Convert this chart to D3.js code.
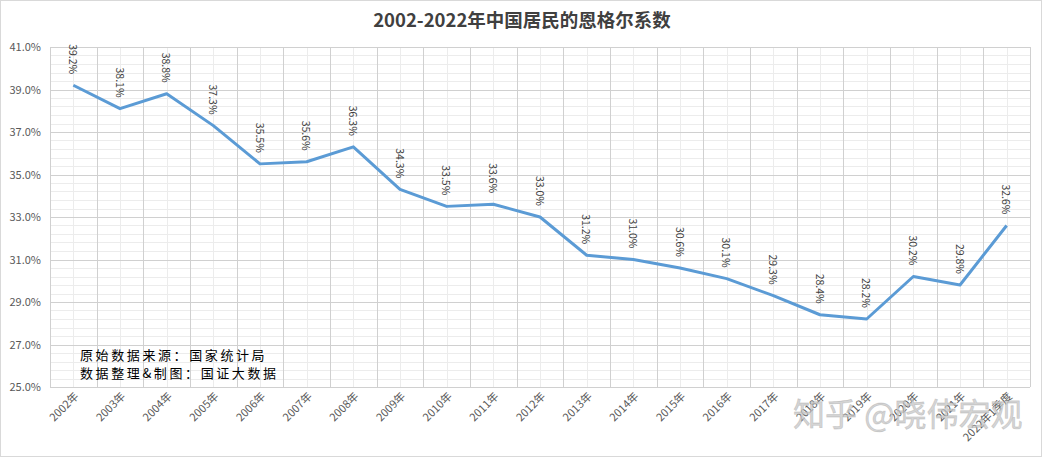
<!DOCTYPE html>
<html><head><meta charset="utf-8">
<script src="https://cdn.jsdelivr.net/npm/d3@7"></script>
<style>
html,body{margin:0;padding:0;background:#fff;}
svg{display:block;}
</style></head>
<body>
<svg id="c" width="1044" height="459"></svg>
<script>
const title = "2002-2022年中国居民的恩格尔系数";
const categories = ["2002年","2003年","2004年","2005年","2006年","2007年","2008年","2009年","2010年","2011年","2012年","2013年","2014年","2015年","2016年","2017年","2018年","2019年","2020年","2021年","2022年1季度"];
const values = [39.2,38.1,38.8,37.3,35.5,35.6,36.3,34.3,33.5,33.6,33.0,31.2,31.0,30.6,30.1,29.3,28.4,28.2,30.2,29.8,32.6];
const yTicks = [25,27,29,31,33,35,37,39,41];
const notes = ["原始数据来源：国家统计局","数据整理&制图：国证大数据"];
const watermark = "知乎 @晓伟宏观";

const svg = d3.select("#c");
const W = 1044, H = 459;
const m = {left:50, right:1030, top:47, bottom:387};
const font = "'Noto Sans CJK SC','Noto Sans',sans-serif";

svg.append("rect").attr("x",0.5).attr("y",0.5).attr("width",W-3).attr("height",H-3)
  .attr("fill","#fff").attr("stroke","#d9d9d9");

const x = d3.scaleBand().domain(categories).range([m.left,m.right]).padding(0);
const y = d3.scaleLinear().domain([25,41]).range([m.bottom,m.top]);

const g = svg.append("g");
g.selectAll(".hmin").data(d3.range(0,41).map(i=>25+i*0.4)).join("line")
  .attr("x1",m.left).attr("x2",m.right)
  .attr("y1",d=>Math.round(y(d))+0.5).attr("y2",d=>Math.round(y(d))+0.5)
  .attr("stroke","#ececec").attr("stroke-width",1);
g.selectAll(".vmin").data(categories).join("line")
  .attr("x1",d=>Math.round(x(d)+x.bandwidth()/2)+0.5).attr("x2",d=>Math.round(x(d)+x.bandwidth()/2)+0.5)
  .attr("y1",m.top).attr("y2",m.bottom)
  .attr("stroke","#ececec").attr("stroke-width",1);
g.selectAll(".hmaj").data(yTicks).join("line")
  .attr("x1",m.left).attr("x2",m.right)
  .attr("y1",d=>Math.round(y(d))+0.5).attr("y2",d=>Math.round(y(d))+0.5)
  .attr("stroke","#d0d0d0").attr("stroke-width",1);
g.selectAll(".vmaj").data(categories.concat(["__end"])).join("line")
  .attr("x1",(d,i)=>Math.round(m.left+i*x.bandwidth())+0.5).attr("x2",(d,i)=>Math.round(m.left+i*x.bandwidth())+0.5)
  .attr("y1",m.top).attr("y2",m.bottom)
  .attr("stroke","#d0d0d0").attr("stroke-width",1);

const yAxis = d3.axisLeft(y).tickValues(yTicks).tickFormat(d=>d.toFixed(1)+"%").tickSize(0).tickPadding(9);
svg.append("g").attr("transform",`translate(${m.left},0)`).call(yAxis)
  .call(s=>s.select(".domain").remove())
  .selectAll("text").attr("font-family",font).attr("font-size",11).attr("fill","#595959");

const xAxis = d3.axisBottom(x).tickSize(0).tickPadding(0);
svg.append("g").attr("transform",`translate(0,${m.bottom})`).call(xAxis)
  .call(s=>s.select(".domain").remove())
  .selectAll("text")
  .attr("font-family",font).attr("font-size",11).attr("fill","#595959")
  .attr("text-anchor","end").attr("dy",null).attr("y",null)
  .attr("transform","translate(6,10) rotate(-45)");

const line = d3.line().x((d,i)=>x(categories[i])+x.bandwidth()/2).y(d=>y(d));
svg.append("path").datum(values).attr("d",line)
  .attr("fill","none").attr("stroke","#5b9bd5").attr("stroke-width",3).attr("stroke-linejoin","round");

svg.selectAll(".dl").data(values).join("text")
  .attr("transform",(d,i)=>`translate(${x(categories[i])+x.bandwidth()/2},${y(d)-11}) rotate(90)`)
  .attr("text-anchor","end").attr("dominant-baseline","central")
  .attr("font-family",font).attr("font-size",10.5).attr("fill","#404040")
  .text(d=>d.toFixed(1)+"%");

svg.append("text").attr("x",522).attr("y",27).attr("text-anchor","middle")
  .attr("font-family",font).attr("font-size",18.5).attr("font-weight","bold").attr("fill","#404040")
  .text(title);

svg.selectAll(".note").data(notes).join("text")
  .attr("x",80).attr("y",(d,i)=>360+i*18)
  .attr("font-family",font).attr("font-size",13).attr("letter-spacing",2.6).attr("fill","#000")
  .text(d=>d);

svg.append("text").attr("x",793).attr("y",426)
  .attr("font-family",font).attr("font-size",32).attr("fill","#c8c8c8").attr("fill-opacity",0.75)
  .attr("stroke","#999").attr("stroke-opacity",0.35).attr("stroke-width",0.8)
  .text(watermark);
</script>
</body></html>
